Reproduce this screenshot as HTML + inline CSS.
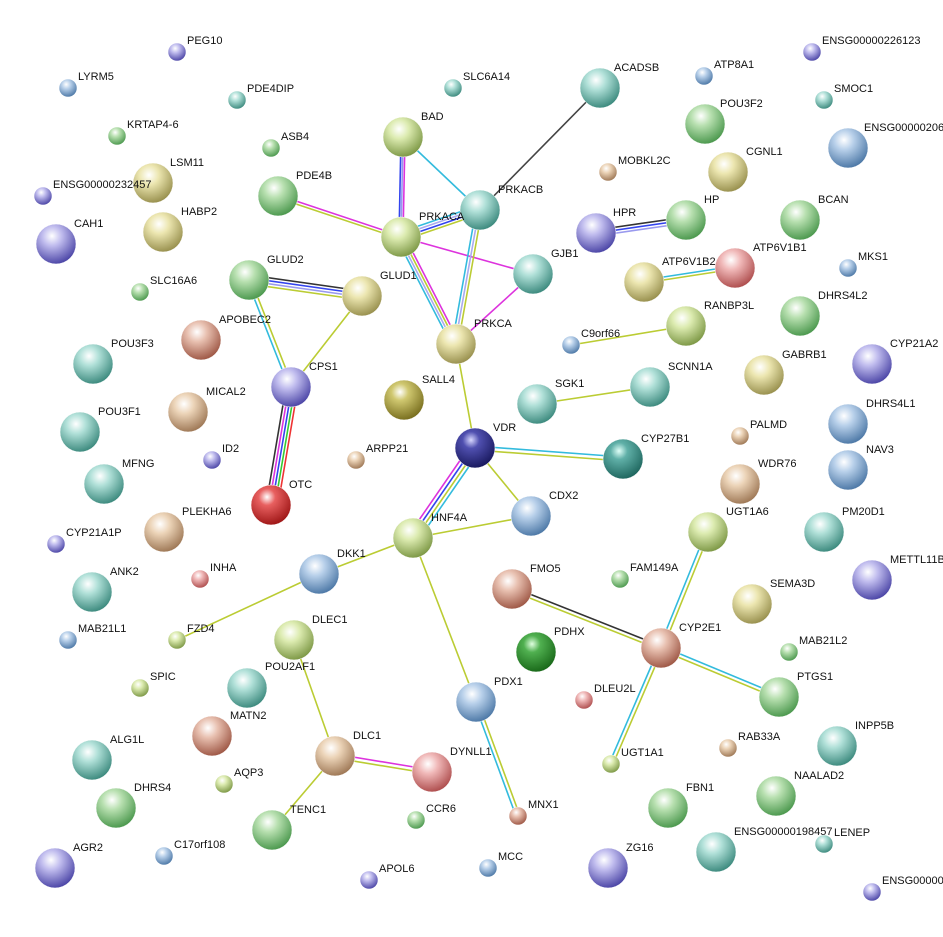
<!DOCTYPE html>
<html><head><meta charset="utf-8"><style>
html,body{margin:0;padding:0;background:#fff;}
svg{display:block}
text{font-family:"Liberation Sans",sans-serif;font-size:11px;fill:#111}
</style></head><body>
<svg width="943" height="937" viewBox="0 0 943 937" xmlns="http://www.w3.org/2000/svg">
<defs>
<radialGradient id="gr" cx="40%" cy="30%" r="70%"><stop offset="0" stop-color="#fff"/><stop offset=".35" stop-color="#b8e0b0"/><stop offset="1" stop-color="#4e9a50"/></radialGradient>
<radialGradient id="te" cx="40%" cy="30%" r="70%"><stop offset="0" stop-color="#fff"/><stop offset=".35" stop-color="#b0e0d8"/><stop offset="1" stop-color="#3f8c80"/></radialGradient>
<radialGradient id="bl" cx="40%" cy="30%" r="70%"><stop offset="0" stop-color="#fff"/><stop offset=".35" stop-color="#b8d0ea"/><stop offset="1" stop-color="#4f7aa8"/></radialGradient>
<radialGradient id="pu" cx="40%" cy="30%" r="70%"><stop offset="0" stop-color="#fff"/><stop offset=".35" stop-color="#c0bcee"/><stop offset="1" stop-color="#4e48a8"/></radialGradient>
<radialGradient id="ye" cx="40%" cy="30%" r="70%"><stop offset="0" stop-color="#fff"/><stop offset=".35" stop-color="#ece6b0"/><stop offset="1" stop-color="#9a9250"/></radialGradient>
<radialGradient id="yg" cx="40%" cy="30%" r="70%"><stop offset="0" stop-color="#fff"/><stop offset=".35" stop-color="#dcebb0"/><stop offset="1" stop-color="#7f9a48"/></radialGradient>
<radialGradient id="ta" cx="40%" cy="30%" r="70%"><stop offset="0" stop-color="#fff"/><stop offset=".35" stop-color="#ecd4b8"/><stop offset="1" stop-color="#a07a58"/></radialGradient>
<radialGradient id="sa" cx="40%" cy="30%" r="70%"><stop offset="0" stop-color="#fff"/><stop offset=".35" stop-color="#e8c0b0"/><stop offset="1" stop-color="#a05a48"/></radialGradient>
<radialGradient id="pk" cx="40%" cy="30%" r="70%"><stop offset="0" stop-color="#fff"/><stop offset=".35" stop-color="#f0b8b8"/><stop offset="1" stop-color="#b05050"/></radialGradient>
<radialGradient id="rd" cx="40%" cy="30%" r="70%"><stop offset="0" stop-color="#fff"/><stop offset=".3" stop-color="#e86060"/><stop offset="1" stop-color="#a01818"/></radialGradient>
<radialGradient id="nv" cx="40%" cy="30%" r="70%"><stop offset="0" stop-color="#d8d8ff"/><stop offset=".3" stop-color="#5050b0"/><stop offset="1" stop-color="#1a1a60"/></radialGradient>
<radialGradient id="ol" cx="40%" cy="30%" r="70%"><stop offset="0" stop-color="#fff"/><stop offset=".3" stop-color="#d0c870"/><stop offset="1" stop-color="#7a7020"/></radialGradient>
<radialGradient id="dg" cx="40%" cy="30%" r="70%"><stop offset="0" stop-color="#e0ffe0"/><stop offset=".3" stop-color="#50b050"/><stop offset="1" stop-color="#1a6a1a"/></radialGradient>
<radialGradient id="dt" cx="40%" cy="30%" r="70%"><stop offset="0" stop-color="#e0fff8"/><stop offset=".3" stop-color="#60b0a8"/><stop offset="1" stop-color="#206860"/></radialGradient>
</defs>
<g fill="none" stroke-width="1.6">
<line x1="600" y1="88" x2="480" y2="210" stroke="#444"/>
<line x1="403" y1="137" x2="480" y2="210" stroke="#33bbdd"/>
<line x1="401" y1="137" x2="399" y2="237" stroke="#3344ee"/>
<line x1="403" y1="137" x2="401" y2="237" stroke="#9999ee"/>
<line x1="405" y1="137" x2="403" y2="237" stroke="#dd33dd"/>
<line x1="278" y1="195" x2="401" y2="236" stroke="#dd33dd"/>
<line x1="278" y1="198" x2="401" y2="239" stroke="#bbcc33"/>
<line x1="401" y1="232" x2="480" y2="205" stroke="#33bbdd"/>
<line x1="401" y1="235" x2="480" y2="208" stroke="#aaaaee"/>
<line x1="401" y1="238" x2="480" y2="211" stroke="#3344ee"/>
<line x1="401" y1="241" x2="480" y2="214" stroke="#bbcc33"/>
<line x1="401" y1="237" x2="533" y2="274" stroke="#dd33dd"/>
<line x1="396" y1="237" x2="451" y2="344" stroke="#33bbdd"/>
<line x1="399" y1="237" x2="454" y2="344" stroke="#aaaaee"/>
<line x1="402" y1="237" x2="457" y2="344" stroke="#bbcc33"/>
<line x1="405" y1="237" x2="460" y2="344" stroke="#dd33dd"/>
<line x1="476" y1="210" x2="452" y2="344" stroke="#33bbdd"/>
<line x1="479" y1="210" x2="455" y2="344" stroke="#aaaaee"/>
<line x1="482" y1="210" x2="458" y2="344" stroke="#bbcc33"/>
<line x1="456" y1="344" x2="533" y2="274" stroke="#dd33dd"/>
<line x1="596" y1="230" x2="686" y2="217" stroke="#333"/>
<line x1="596" y1="233" x2="686" y2="220" stroke="#3344ee"/>
<line x1="596" y1="236" x2="686" y2="223" stroke="#9999ee"/>
<line x1="644" y1="280" x2="735" y2="266" stroke="#33bbdd"/>
<line x1="644" y1="283" x2="735" y2="269" stroke="#bbcc33"/>
<line x1="249" y1="275" x2="362" y2="291" stroke="#333"/>
<line x1="249" y1="278" x2="362" y2="294" stroke="#3344ee"/>
<line x1="249" y1="281" x2="362" y2="297" stroke="#9999ee"/>
<line x1="249" y1="284" x2="362" y2="300" stroke="#bbcc33"/>
<line x1="247" y1="280" x2="289" y2="387" stroke="#33bbdd"/>
<line x1="251" y1="280" x2="293" y2="387" stroke="#bbcc33"/>
<line x1="362" y1="296" x2="291" y2="387" stroke="#bbcc33"/>
<line x1="286" y1="387" x2="266" y2="505" stroke="#333"/>
<line x1="289" y1="387" x2="269" y2="505" stroke="#dd33dd"/>
<line x1="292" y1="387" x2="272" y2="505" stroke="#3344ee"/>
<line x1="295" y1="387" x2="275" y2="505" stroke="#33cc33"/>
<line x1="298" y1="387" x2="278" y2="505" stroke="#ee3333"/>
<line x1="571" y1="345" x2="686" y2="326" stroke="#bbcc33"/>
<line x1="537" y1="404" x2="650" y2="387" stroke="#bbcc33"/>
<line x1="456" y1="344" x2="475" y2="448" stroke="#bbcc33"/>
<line x1="475" y1="446" x2="623" y2="457" stroke="#33bbdd"/>
<line x1="475" y1="450" x2="623" y2="461" stroke="#bbcc33"/>
<line x1="475" y1="448" x2="531" y2="516" stroke="#bbcc33"/>
<line x1="470" y1="446" x2="408" y2="536" stroke="#dd33dd"/>
<line x1="473" y1="448" x2="411" y2="538" stroke="#3344ee"/>
<line x1="476" y1="450" x2="414" y2="540" stroke="#bbcc33"/>
<line x1="479" y1="452" x2="417" y2="542" stroke="#33bbdd"/>
<line x1="413" y1="538" x2="531" y2="516" stroke="#bbcc33"/>
<line x1="413" y1="538" x2="319" y2="574" stroke="#bbcc33"/>
<line x1="319" y1="574" x2="177" y2="640" stroke="#bbcc33"/>
<line x1="413" y1="538" x2="476" y2="702" stroke="#bbcc33"/>
<line x1="474" y1="702" x2="516" y2="816" stroke="#33bbdd"/>
<line x1="478" y1="702" x2="520" y2="816" stroke="#bbcc33"/>
<line x1="512" y1="587" x2="661" y2="646" stroke="#333"/>
<line x1="512" y1="591" x2="661" y2="650" stroke="#bbcc33"/>
<line x1="706" y1="532" x2="659" y2="648" stroke="#33bbdd"/>
<line x1="710" y1="532" x2="663" y2="648" stroke="#bbcc33"/>
<line x1="661" y1="646" x2="779" y2="695" stroke="#33bbdd"/>
<line x1="661" y1="650" x2="779" y2="699" stroke="#bbcc33"/>
<line x1="659" y1="648" x2="609" y2="764" stroke="#33bbdd"/>
<line x1="663" y1="648" x2="613" y2="764" stroke="#bbcc33"/>
<line x1="294" y1="640" x2="335" y2="756" stroke="#bbcc33"/>
<line x1="335" y1="754" x2="432" y2="770" stroke="#dd33dd"/>
<line x1="335" y1="758" x2="432" y2="774" stroke="#bbcc33"/>
<line x1="335" y1="756" x2="272" y2="830" stroke="#bbcc33"/>
</g>
<g stroke="#fff" stroke-width="0.5">
<circle cx="177" cy="52" r="9" fill="url(#pu)"/>
<circle cx="68" cy="88" r="9" fill="url(#bl)"/>
<circle cx="237" cy="100" r="9" fill="url(#te)"/>
<circle cx="453" cy="88" r="9" fill="url(#te)"/>
<circle cx="600" cy="88" r="20" fill="url(#te)"/>
<circle cx="704" cy="76" r="9" fill="url(#bl)"/>
<circle cx="812" cy="52" r="9" fill="url(#pu)"/>
<circle cx="824" cy="100" r="9" fill="url(#te)"/>
<circle cx="705" cy="124" r="20" fill="url(#gr)"/>
<circle cx="848" cy="148" r="20" fill="url(#bl)"/>
<circle cx="117" cy="136" r="9" fill="url(#gr)"/>
<circle cx="271" cy="148" r="9" fill="url(#gr)"/>
<circle cx="403" cy="137" r="20" fill="url(#yg)"/>
<circle cx="153" cy="183" r="20" fill="url(#ye)"/>
<circle cx="608" cy="172" r="9" fill="url(#ta)"/>
<circle cx="728" cy="172" r="20" fill="url(#ye)"/>
<circle cx="43" cy="196" r="9" fill="url(#pu)"/>
<circle cx="278" cy="196" r="20" fill="url(#gr)"/>
<circle cx="480" cy="210" r="20" fill="url(#te)"/>
<circle cx="163" cy="232" r="20" fill="url(#ye)"/>
<circle cx="596" cy="233" r="20" fill="url(#pu)"/>
<circle cx="686" cy="220" r="20" fill="url(#gr)"/>
<circle cx="800" cy="220" r="20" fill="url(#gr)"/>
<circle cx="56" cy="244" r="20" fill="url(#pu)"/>
<circle cx="401" cy="237" r="20" fill="url(#yg)"/>
<circle cx="533" cy="274" r="20" fill="url(#te)"/>
<circle cx="644" cy="282" r="20" fill="url(#ye)"/>
<circle cx="735" cy="268" r="20" fill="url(#pk)"/>
<circle cx="848" cy="268" r="9" fill="url(#bl)"/>
<circle cx="249" cy="280" r="20" fill="url(#gr)"/>
<circle cx="362" cy="296" r="20" fill="url(#ye)"/>
<circle cx="140" cy="292" r="9" fill="url(#gr)"/>
<circle cx="201" cy="340" r="20" fill="url(#sa)"/>
<circle cx="800" cy="316" r="20" fill="url(#gr)"/>
<circle cx="686" cy="326" r="20" fill="url(#yg)"/>
<circle cx="456" cy="344" r="20" fill="url(#ye)"/>
<circle cx="571" cy="345" r="9" fill="url(#bl)"/>
<circle cx="872" cy="364" r="20" fill="url(#pu)"/>
<circle cx="93" cy="364" r="20" fill="url(#te)"/>
<circle cx="291" cy="387" r="20" fill="url(#pu)"/>
<circle cx="650" cy="387" r="20" fill="url(#te)"/>
<circle cx="764" cy="375" r="20" fill="url(#ye)"/>
<circle cx="404" cy="400" r="20" fill="url(#ol)"/>
<circle cx="537" cy="404" r="20" fill="url(#te)"/>
<circle cx="188" cy="412" r="20" fill="url(#ta)"/>
<circle cx="848" cy="424" r="20" fill="url(#bl)"/>
<circle cx="80" cy="432" r="20" fill="url(#te)"/>
<circle cx="475" cy="448" r="20" fill="url(#nv)"/>
<circle cx="740" cy="436" r="9" fill="url(#ta)"/>
<circle cx="623" cy="459" r="20" fill="url(#dt)"/>
<circle cx="212" cy="460" r="9" fill="url(#pu)"/>
<circle cx="356" cy="460" r="9" fill="url(#ta)"/>
<circle cx="848" cy="470" r="20" fill="url(#bl)"/>
<circle cx="104" cy="484" r="20" fill="url(#te)"/>
<circle cx="271" cy="505" r="20" fill="url(#rd)"/>
<circle cx="740" cy="484" r="20" fill="url(#ta)"/>
<circle cx="531" cy="516" r="20" fill="url(#bl)"/>
<circle cx="413" cy="538" r="20" fill="url(#yg)"/>
<circle cx="708" cy="532" r="20" fill="url(#yg)"/>
<circle cx="824" cy="532" r="20" fill="url(#te)"/>
<circle cx="56" cy="544" r="9" fill="url(#pu)"/>
<circle cx="164" cy="532" r="20" fill="url(#ta)"/>
<circle cx="872" cy="580" r="20" fill="url(#pu)"/>
<circle cx="319" cy="574" r="20" fill="url(#bl)"/>
<circle cx="200" cy="579" r="9" fill="url(#pk)"/>
<circle cx="512" cy="589" r="20" fill="url(#sa)"/>
<circle cx="620" cy="579" r="9" fill="url(#gr)"/>
<circle cx="752" cy="604" r="20" fill="url(#ye)"/>
<circle cx="92" cy="592" r="20" fill="url(#te)"/>
<circle cx="177" cy="640" r="9" fill="url(#yg)"/>
<circle cx="68" cy="640" r="9" fill="url(#bl)"/>
<circle cx="294" cy="640" r="20" fill="url(#yg)"/>
<circle cx="536" cy="652" r="20" fill="url(#dg)"/>
<circle cx="661" cy="648" r="20" fill="url(#sa)"/>
<circle cx="789" cy="652" r="9" fill="url(#gr)"/>
<circle cx="140" cy="688" r="9" fill="url(#yg)"/>
<circle cx="247" cy="688" r="20" fill="url(#te)"/>
<circle cx="212" cy="736" r="20" fill="url(#sa)"/>
<circle cx="476" cy="702" r="20" fill="url(#bl)"/>
<circle cx="584" cy="700" r="9" fill="url(#pk)"/>
<circle cx="779" cy="697" r="20" fill="url(#gr)"/>
<circle cx="837" cy="746" r="20" fill="url(#te)"/>
<circle cx="92" cy="760" r="20" fill="url(#te)"/>
<circle cx="728" cy="748" r="9" fill="url(#ta)"/>
<circle cx="224" cy="784" r="9" fill="url(#yg)"/>
<circle cx="335" cy="756" r="20" fill="url(#ta)"/>
<circle cx="432" cy="772" r="20" fill="url(#pk)"/>
<circle cx="611" cy="764" r="9" fill="url(#yg)"/>
<circle cx="776" cy="796" r="20" fill="url(#gr)"/>
<circle cx="116" cy="808" r="20" fill="url(#gr)"/>
<circle cx="668" cy="808" r="20" fill="url(#gr)"/>
<circle cx="416" cy="820" r="9" fill="url(#gr)"/>
<circle cx="518" cy="816" r="9" fill="url(#sa)"/>
<circle cx="272" cy="830" r="20" fill="url(#gr)"/>
<circle cx="824" cy="844" r="9" fill="url(#te)"/>
<circle cx="716" cy="852" r="20" fill="url(#te)"/>
<circle cx="55" cy="868" r="20" fill="url(#pu)"/>
<circle cx="164" cy="856" r="9" fill="url(#bl)"/>
<circle cx="488" cy="868" r="9" fill="url(#bl)"/>
<circle cx="608" cy="868" r="20" fill="url(#pu)"/>
<circle cx="369" cy="880" r="9" fill="url(#pu)"/>
<circle cx="872" cy="892" r="9" fill="url(#pu)"/>
</g>
<g>
<text x="187" y="44">PEG10</text>
<text x="78" y="80">LYRM5</text>
<text x="247" y="92">PDE4DIP</text>
<text x="463" y="80">SLC6A14</text>
<text x="614" y="71">ACADSB</text>
<text x="714" y="68">ATP8A1</text>
<text x="822" y="44">ENSG00000226123</text>
<text x="834" y="92">SMOC1</text>
<text x="720" y="107">POU3F2</text>
<text x="864" y="131">ENSG00000206</text>
<text x="127" y="128">KRTAP4-6</text>
<text x="281" y="140">ASB4</text>
<text x="421" y="120">BAD</text>
<text x="170" y="166">LSM11</text>
<text x="618" y="164">MOBKL2C</text>
<text x="746" y="155">CGNL1</text>
<text x="53" y="188">ENSG00000232457</text>
<text x="296" y="179">PDE4B</text>
<text x="498" y="193">PRKACB</text>
<text x="181" y="215">HABP2</text>
<text x="613" y="216">HPR</text>
<text x="704" y="203">HP</text>
<text x="818" y="203">BCAN</text>
<text x="74" y="227">CAH1</text>
<text x="419" y="220">PRKACA</text>
<text x="551" y="257">GJB1</text>
<text x="662" y="265">ATP6V1B2</text>
<text x="753" y="251">ATP6V1B1</text>
<text x="858" y="260">MKS1</text>
<text x="267" y="263">GLUD2</text>
<text x="380" y="279">GLUD1</text>
<text x="150" y="284">SLC16A6</text>
<text x="219" y="323">APOBEC2</text>
<text x="818" y="299">DHRS4L2</text>
<text x="704" y="309">RANBP3L</text>
<text x="474" y="327">PRKCA</text>
<text x="581" y="337">C9orf66</text>
<text x="890" y="347">CYP21A2</text>
<text x="111" y="347">POU3F3</text>
<text x="309" y="370">CPS1</text>
<text x="668" y="370">SCNN1A</text>
<text x="782" y="358">GABRB1</text>
<text x="422" y="383">SALL4</text>
<text x="555" y="387">SGK1</text>
<text x="206" y="395">MICAL2</text>
<text x="866" y="407">DHRS4L1</text>
<text x="98" y="415">POU3F1</text>
<text x="493" y="431">VDR</text>
<text x="750" y="428">PALMD</text>
<text x="641" y="442">CYP27B1</text>
<text x="222" y="452">ID2</text>
<text x="366" y="452">ARPP21</text>
<text x="866" y="453">NAV3</text>
<text x="122" y="467">MFNG</text>
<text x="289" y="488">OTC</text>
<text x="758" y="467">WDR76</text>
<text x="549" y="499">CDX2</text>
<text x="431" y="521">HNF4A</text>
<text x="726" y="515">UGT1A6</text>
<text x="842" y="515">PM20D1</text>
<text x="66" y="536">CYP21A1P</text>
<text x="182" y="515">PLEKHA6</text>
<text x="890" y="563">METTL11B</text>
<text x="337" y="557">DKK1</text>
<text x="210" y="571">INHA</text>
<text x="530" y="572">FMO5</text>
<text x="630" y="571">FAM149A</text>
<text x="770" y="587">SEMA3D</text>
<text x="110" y="575">ANK2</text>
<text x="187" y="632">FZD4</text>
<text x="78" y="632">MAB21L1</text>
<text x="312" y="623">DLEC1</text>
<text x="554" y="635">PDHX</text>
<text x="679" y="631">CYP2E1</text>
<text x="799" y="644">MAB21L2</text>
<text x="150" y="680">SPIC</text>
<text x="265" y="670">POU2AF1</text>
<text x="230" y="719">MATN2</text>
<text x="494" y="685">PDX1</text>
<text x="594" y="692">DLEU2L</text>
<text x="797" y="680">PTGS1</text>
<text x="855" y="729">INPP5B</text>
<text x="110" y="743">ALG1L</text>
<text x="738" y="740">RAB33A</text>
<text x="234" y="776">AQP3</text>
<text x="353" y="739">DLC1</text>
<text x="450" y="755">DYNLL1</text>
<text x="621" y="756">UGT1A1</text>
<text x="794" y="779">NAALAD2</text>
<text x="134" y="791">DHRS4</text>
<text x="686" y="791">FBN1</text>
<text x="426" y="812">CCR6</text>
<text x="528" y="808">MNX1</text>
<text x="290" y="813">TENC1</text>
<text x="834" y="836">LENEP</text>
<text x="734" y="835">ENSG00000198457</text>
<text x="73" y="851">AGR2</text>
<text x="174" y="848">C17orf108</text>
<text x="498" y="860">MCC</text>
<text x="626" y="851">ZG16</text>
<text x="379" y="872">APOL6</text>
<text x="882" y="884">ENSG000000</text>
</g>
</svg>
</body></html>
